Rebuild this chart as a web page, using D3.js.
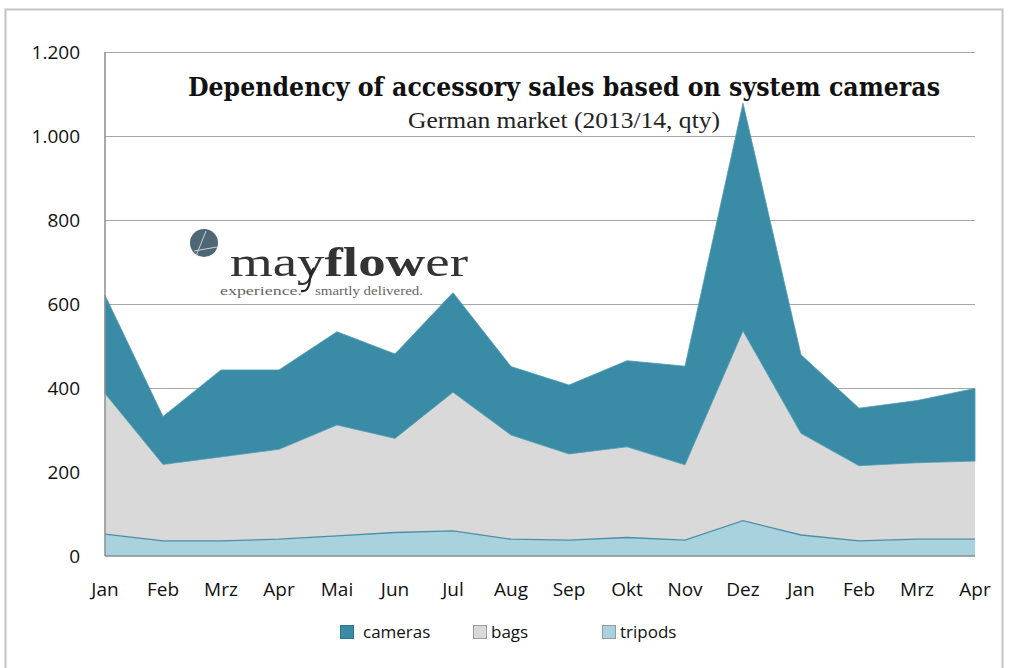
<!DOCTYPE html>
<html><head><meta charset="utf-8">
<script src="https://cdn.jsdelivr.net/npm/d3@7/dist/d3.min.js"></script>
<style>body{margin:0;background:#fff}svg{display:block}</style>
</head><body>
<svg id="c" width="1017" height="668"></svg>
<script>
const months = ["Jan","Feb","Mrz","Apr","Mai","Jun","Jul","Aug","Sep","Okt","Nov","Dez","Jan","Feb","Mrz","Apr"];
const tripods = [52,36,36,40,48,56,60,40,38,44,38,84,50,36,40,40];
const bags    = [335,182,200,214,264,224,330,248,205,216,179,452,242,179,182,186];
const cameras = [234,114,207,189,222,201,237,163,164,205,235,542,187,137,148,173];
const yTicks = [0,200,400,600,800,1000,1200];
const seriesNames = ["tripods","bags","cameras"];
const colors = {cameras:"#3a8ba6", bags:"#d9d9d9", tripods:"#a9d2df"};

const svg = d3.select("#c");
svg.append("rect").attr("x",5.5).attr("y",9.5).attr("width",997).attr("height",670).attr("fill","#fff").attr("stroke","#c4c4c4").attr("stroke-width",2);

const x0=105,x1=975,yTop=52,yBot=556;
const idx = months.map((m,i)=>i);
const x = d3.scaleLinear().domain([0,months.length-1]).range([x0,x1]);
const y = d3.scaleLinear().domain([0,1200]).range([yBot,yTop]);

const rows = idx.map(i=>({i, tripods:tripods[i], bags:bags[i], cameras:cameras[i]}));
const stack = d3.stack().keys(seriesNames)(rows);

// gridlines
svg.append("g").selectAll("line").data(yTicks.filter(t=>t>0)).join("line")
  .attr("x1",x0).attr("x2",x1).attr("y1",d=>Math.round(y(d))+0.5).attr("y2",d=>Math.round(y(d))+0.5)
  .attr("stroke","#a6a6a6").attr("stroke-width",1.2);

const area = d3.area().x(d=>x(d.data.i)).y0(d=>y(d[0])).y1(d=>y(d[1]));
svg.append("g").selectAll("path").data(stack).join("path")
  .attr("d",area).attr("fill",d=>colors[d.key])
  .attr("stroke",d=>d.key==="cameras"?"#4f9ab3":"none").attr("stroke-width",0.8);

// tripods top line
const line = d3.line().x(d=>x(d.data.i)).y(d=>y(d[1]));
svg.append("path").attr("d",line(stack[0])).attr("fill","none").attr("stroke","#4c8ea3").attr("stroke-width",1.3);

// axes lines
svg.append("line").attr("x1",x0).attr("x2",x0).attr("y1",yTop).attr("y2",yBot).attr("stroke","#8c8c8c").attr("stroke-width",1.5);
svg.append("line").attr("x1",x0).attr("x2",x1).attr("y1",yBot).attr("y2",yBot).attr("stroke","#8c8c8c").attr("stroke-width",1.5);

// y labels
const fmt = v => v>=1000 ? d3.format(",")(v).replace(",",".") : String(v);
svg.append("g").selectAll("text").data(yTicks).join("text")
  .attr("x",80).attr("y",d=>y(d)+7).attr("text-anchor","end")
  .attr("font-family","'Open Sans', 'Liberation Sans', sans-serif").attr("font-size",19).attr("fill","#111")
  .text(fmt);
// x labels
svg.append("g").selectAll("text").data(months).join("text")
  .attr("x",(d,i)=>x(i)).attr("y",596).attr("text-anchor","middle")
  .attr("font-family","'Open Sans', 'Liberation Sans', sans-serif").attr("font-size",19).attr("fill","#111")
  .text(d=>d);

// title
svg.append("text").attr("x",564).attr("y",96).attr("text-anchor","middle")
  .attr("font-family","'DejaVu Serif', serif").attr("font-stretch","condensed").attr("font-weight","bold").attr("font-size",26)
  .attr("textLength",752).attr("lengthAdjust","spacingAndGlyphs").attr("fill","#111")
  .text("Dependency of accessory sales based on system cameras");
svg.append("text").attr("x",564).attr("y",128).attr("text-anchor","middle")
  .attr("font-family","'Liberation Serif', serif").attr("font-size",24)
  .attr("textLength",312).attr("lengthAdjust","spacingAndGlyphs").attr("fill","#222")
  .text("German market (2013/14, qty)");

// logo
const logo = svg.append("g");
logo.append("circle").attr("cx",204).attr("cy",243).attr("r",14).attr("fill","#4f6674");
logo.append("path").attr("d","M196,256 L206,231 M194,251 L217,247").attr("stroke","#c9d3d8").attr("stroke-width",1).attr("fill","none");
const mt = logo.append("text").attr("x",230).attr("y",276).attr("font-family","'Liberation Serif', serif").attr("font-size",42).attr("fill","#333")
  .attr("textLength",238).attr("lengthAdjust","spacingAndGlyphs");
mt.append("tspan").text("may");
mt.append("tspan").attr("font-weight","bold").text("flow");
mt.append("tspan").text("er");
logo.append("text").attr("x",220).attr("y",295).attr("font-family","'Liberation Serif', serif").attr("font-size",13).attr("fill","#666")
  .attr("textLength",82).attr("lengthAdjust","spacingAndGlyphs").text("experience.");
logo.append("path").attr("d","M301,291 C306,292 309,289 310,279 C311,272 313,269 314,268").attr("stroke","#222").attr("stroke-width",2.2).attr("fill","none");
logo.append("text").attr("x",315).attr("y",295).attr("font-family","'Liberation Serif', serif").attr("font-size",13).attr("fill","#666")
  .attr("textLength",108).attr("lengthAdjust","spacingAndGlyphs").text("smartly delivered.");

// legend
const legendItems = [{k:"cameras",x:340},{k:"bags",x:473},{k:"tripods",x:602}];
const lg = svg.append("g").selectAll("g").data(legendItems).join("g");
lg.append("rect").attr("x",d=>d.x+0.5).attr("y",625.5).attr("width",13).attr("height",13)
  .attr("fill",d=>colors[d.k]).attr("stroke",d=>d.k==="cameras"?"#2f7590":"#999").attr("stroke-width",1);
lg.append("text").attr("x",d=>d.x+(d.k==="cameras"?23:18)).attr("y",638)
  .attr("font-family","'Open Sans', 'Liberation Sans', sans-serif").attr("font-size",17).attr("fill","#111").text(d=>d.k);
</script>
</body></html>
